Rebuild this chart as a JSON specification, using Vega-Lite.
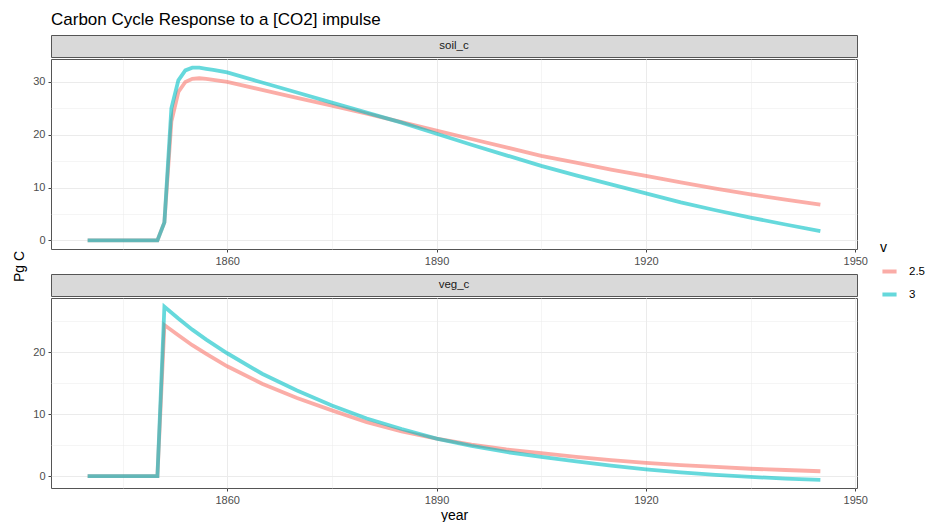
{
  "$schema": "https://vega.github.io/schema/vega-lite/v6.json",
  "padding": {"left": 13, "top": 10, "right": 0, "bottom": 0},
  "background": "white",
  "title": {"text": "Pg C", "orient": "left", "anchor": "middle", "fontSize": 14, "fontWeight": "normal", "font": "Liberation Sans", "color": "#000000", "offset": 5},
  "config": {
    "font": "Liberation Sans",
    "view": {"stroke": "#555555", "strokeWidth": 1},
    "axis": {"domain": false, "tickColor": "#444444", "tickSize": 3, "labelColor": "#4d4d4d", "labelFontSize": 11, "labelPadding": 3, "titleFontWeight": "normal", "titleColor": "#000000", "titleFontSize": 14, "gridColor": "#ebebeb"},
    "legend": {"titleFontWeight": "normal", "titleFontSize": 14, "titleColor": "#000000", "labelFontSize": 11.5, "labelColor": "#000000"}
  },
  "datasets": {
    "curves": [
      {"panel": "soil_c", "v": "2.5", "year": 1840, "value": 0},
      {"panel": "soil_c", "v": "2.5", "year": 1842, "value": 0},
      {"panel": "soil_c", "v": "2.5", "year": 1844, "value": 0},
      {"panel": "soil_c", "v": "2.5", "year": 1846, "value": 0},
      {"panel": "soil_c", "v": "2.5", "year": 1848, "value": 0},
      {"panel": "soil_c", "v": "2.5", "year": 1850, "value": 0},
      {"panel": "soil_c", "v": "2.5", "year": 1851, "value": 3.4},
      {"panel": "soil_c", "v": "2.5", "year": 1852, "value": 22.5},
      {"panel": "soil_c", "v": "2.5", "year": 1853, "value": 28.1},
      {"panel": "soil_c", "v": "2.5", "year": 1854, "value": 30.0},
      {"panel": "soil_c", "v": "2.5", "year": 1855, "value": 30.6},
      {"panel": "soil_c", "v": "2.5", "year": 1856, "value": 30.7},
      {"panel": "soil_c", "v": "2.5", "year": 1857, "value": 30.6},
      {"panel": "soil_c", "v": "2.5", "year": 1858, "value": 30.4},
      {"panel": "soil_c", "v": "2.5", "year": 1860, "value": 30.0},
      {"panel": "soil_c", "v": "2.5", "year": 1865, "value": 28.5},
      {"panel": "soil_c", "v": "2.5", "year": 1870, "value": 27.0},
      {"panel": "soil_c", "v": "2.5", "year": 1875, "value": 25.5},
      {"panel": "soil_c", "v": "2.5", "year": 1880, "value": 24.0},
      {"panel": "soil_c", "v": "2.5", "year": 1885, "value": 22.4},
      {"panel": "soil_c", "v": "2.5", "year": 1890, "value": 20.8},
      {"panel": "soil_c", "v": "2.5", "year": 1895, "value": 19.2},
      {"panel": "soil_c", "v": "2.5", "year": 1900, "value": 17.6},
      {"panel": "soil_c", "v": "2.5", "year": 1905, "value": 16.0},
      {"panel": "soil_c", "v": "2.5", "year": 1910, "value": 14.7},
      {"panel": "soil_c", "v": "2.5", "year": 1915, "value": 13.4},
      {"panel": "soil_c", "v": "2.5", "year": 1920, "value": 12.2},
      {"panel": "soil_c", "v": "2.5", "year": 1925, "value": 11.0},
      {"panel": "soil_c", "v": "2.5", "year": 1930, "value": 9.8},
      {"panel": "soil_c", "v": "2.5", "year": 1935, "value": 8.7},
      {"panel": "soil_c", "v": "2.5", "year": 1940, "value": 7.7},
      {"panel": "soil_c", "v": "2.5", "year": 1945, "value": 6.75},
      {"panel": "soil_c", "v": "3", "year": 1840, "value": 0},
      {"panel": "soil_c", "v": "3", "year": 1842, "value": 0},
      {"panel": "soil_c", "v": "3", "year": 1844, "value": 0},
      {"panel": "soil_c", "v": "3", "year": 1846, "value": 0},
      {"panel": "soil_c", "v": "3", "year": 1848, "value": 0},
      {"panel": "soil_c", "v": "3", "year": 1850, "value": 0},
      {"panel": "soil_c", "v": "3", "year": 1851, "value": 3.4},
      {"panel": "soil_c", "v": "3", "year": 1852, "value": 25.0},
      {"panel": "soil_c", "v": "3", "year": 1853, "value": 30.3},
      {"panel": "soil_c", "v": "3", "year": 1854, "value": 32.2},
      {"panel": "soil_c", "v": "3", "year": 1855, "value": 32.7},
      {"panel": "soil_c", "v": "3", "year": 1856, "value": 32.7},
      {"panel": "soil_c", "v": "3", "year": 1857, "value": 32.5},
      {"panel": "soil_c", "v": "3", "year": 1858, "value": 32.3},
      {"panel": "soil_c", "v": "3", "year": 1860, "value": 31.8},
      {"panel": "soil_c", "v": "3", "year": 1865, "value": 29.9},
      {"panel": "soil_c", "v": "3", "year": 1870, "value": 28.0},
      {"panel": "soil_c", "v": "3", "year": 1875, "value": 26.1},
      {"panel": "soil_c", "v": "3", "year": 1880, "value": 24.2},
      {"panel": "soil_c", "v": "3", "year": 1885, "value": 22.3},
      {"panel": "soil_c", "v": "3", "year": 1890, "value": 20.2},
      {"panel": "soil_c", "v": "3", "year": 1895, "value": 18.1},
      {"panel": "soil_c", "v": "3", "year": 1900, "value": 16.1},
      {"panel": "soil_c", "v": "3", "year": 1905, "value": 14.1},
      {"panel": "soil_c", "v": "3", "year": 1910, "value": 12.3},
      {"panel": "soil_c", "v": "3", "year": 1915, "value": 10.6},
      {"panel": "soil_c", "v": "3", "year": 1920, "value": 8.9},
      {"panel": "soil_c", "v": "3", "year": 1925, "value": 7.2},
      {"panel": "soil_c", "v": "3", "year": 1930, "value": 5.7},
      {"panel": "soil_c", "v": "3", "year": 1935, "value": 4.3},
      {"panel": "soil_c", "v": "3", "year": 1940, "value": 3.0},
      {"panel": "soil_c", "v": "3", "year": 1945, "value": 1.75},
      {"panel": "veg_c", "v": "2.5", "year": 1840, "value": 0},
      {"panel": "veg_c", "v": "2.5", "year": 1845, "value": 0},
      {"panel": "veg_c", "v": "2.5", "year": 1850, "value": 0},
      {"panel": "veg_c", "v": "2.5", "year": 1851, "value": 24.35},
      {"panel": "veg_c", "v": "2.5", "year": 1853, "value": 22.7},
      {"panel": "veg_c", "v": "2.5", "year": 1855, "value": 21.1},
      {"panel": "veg_c", "v": "2.5", "year": 1857, "value": 19.7},
      {"panel": "veg_c", "v": "2.5", "year": 1860, "value": 17.7},
      {"panel": "veg_c", "v": "2.5", "year": 1865, "value": 14.9},
      {"panel": "veg_c", "v": "2.5", "year": 1870, "value": 12.6},
      {"panel": "veg_c", "v": "2.5", "year": 1875, "value": 10.6},
      {"panel": "veg_c", "v": "2.5", "year": 1880, "value": 8.7},
      {"panel": "veg_c", "v": "2.5", "year": 1885, "value": 7.2},
      {"panel": "veg_c", "v": "2.5", "year": 1890, "value": 6.05},
      {"panel": "veg_c", "v": "2.5", "year": 1895, "value": 5.1},
      {"panel": "veg_c", "v": "2.5", "year": 1900, "value": 4.3},
      {"panel": "veg_c", "v": "2.5", "year": 1905, "value": 3.7},
      {"panel": "veg_c", "v": "2.5", "year": 1910, "value": 3.1},
      {"panel": "veg_c", "v": "2.5", "year": 1915, "value": 2.6},
      {"panel": "veg_c", "v": "2.5", "year": 1920, "value": 2.15},
      {"panel": "veg_c", "v": "2.5", "year": 1925, "value": 1.8},
      {"panel": "veg_c", "v": "2.5", "year": 1930, "value": 1.5},
      {"panel": "veg_c", "v": "2.5", "year": 1935, "value": 1.2},
      {"panel": "veg_c", "v": "2.5", "year": 1940, "value": 1.0},
      {"panel": "veg_c", "v": "2.5", "year": 1945, "value": 0.8},
      {"panel": "veg_c", "v": "3", "year": 1840, "value": 0},
      {"panel": "veg_c", "v": "3", "year": 1845, "value": 0},
      {"panel": "veg_c", "v": "3", "year": 1850, "value": 0},
      {"panel": "veg_c", "v": "3", "year": 1851, "value": 27.3},
      {"panel": "veg_c", "v": "3", "year": 1853, "value": 25.4},
      {"panel": "veg_c", "v": "3", "year": 1855, "value": 23.6},
      {"panel": "veg_c", "v": "3", "year": 1857, "value": 22.0},
      {"panel": "veg_c", "v": "3", "year": 1860, "value": 19.8},
      {"panel": "veg_c", "v": "3", "year": 1865, "value": 16.5},
      {"panel": "veg_c", "v": "3", "year": 1870, "value": 13.8},
      {"panel": "veg_c", "v": "3", "year": 1875, "value": 11.4},
      {"panel": "veg_c", "v": "3", "year": 1880, "value": 9.3},
      {"panel": "veg_c", "v": "3", "year": 1885, "value": 7.6},
      {"panel": "veg_c", "v": "3", "year": 1890, "value": 6.05},
      {"panel": "veg_c", "v": "3", "year": 1895, "value": 4.9},
      {"panel": "veg_c", "v": "3", "year": 1900, "value": 3.9},
      {"panel": "veg_c", "v": "3", "year": 1905, "value": 3.1},
      {"panel": "veg_c", "v": "3", "year": 1910, "value": 2.4},
      {"panel": "veg_c", "v": "3", "year": 1915, "value": 1.7},
      {"panel": "veg_c", "v": "3", "year": 1920, "value": 1.1},
      {"panel": "veg_c", "v": "3", "year": 1925, "value": 0.6},
      {"panel": "veg_c", "v": "3", "year": 1930, "value": 0.2},
      {"panel": "veg_c", "v": "3", "year": 1935, "value": -0.1},
      {"panel": "veg_c", "v": "3", "year": 1940, "value": -0.4},
      {"panel": "veg_c", "v": "3", "year": 1945, "value": -0.6}
    ]
  },
  "spacing": 0,
  "resolve": {"scale": {"y": "independent", "color": "shared"}},
  "vconcat": [
    {
      "width": 806, "height": 22,
      "title": {"text": "Carbon Cycle Response to a [CO2] impulse", "anchor": "start", "frame": "group", "fontSize": 17, "fontWeight": "normal", "color": "#000000", "offset": 6},
      "data": {"values": [{"label": "soil_c"}]},
      "view": {"fill": "#d9d9d9", "stroke": "#555555"},
      "mark": {"type": "text", "fontSize": 11.5, "color": "#1a1a1a", "baseline": "middle"},
      "encoding": {"text": {"field": "label"}}
    },
    {
      "width": 806, "height": 190,
      "data": {"name": "curves"},
      "transform": [{"filter": "datum.panel == 'soil_c'"}],
      "mark": {"type": "line", "strokeWidth": 3.8, "opacity": 0.6},
      "encoding": {
        "x": {"field": "year", "type": "quantitative", "scale": {"domain": [1834.75, 1950.25], "nice": false, "zero": false},
              "axis": {"title": null, "minExtent": 23, "maxExtent": 23, "values": [1845, 1860, 1875, 1890, 1905, 1920, 1935, 1950], "format": "d",
                       "labelExpr": "datum.value % 30 == 0 ? datum.label : ''",
                       "tickOpacity": {"condition": {"test": "datum.value % 30 == 0", "value": 1}, "value": 0},
                       "gridWidth": {"condition": {"test": "datum.value % 30 == 0", "value": 1}, "value": 0.5}}},
        "y": {"field": "value", "type": "quantitative", "scale": {"domain": [-1.64, 34.35], "nice": false, "zero": false},
              "axis": {"title": null, "minExtent": 18, "values": [0, 5, 10, 15, 20, 25, 30],
                       "labelExpr": "datum.value % 10 == 0 ? datum.label : ''",
                       "tickOpacity": {"condition": {"test": "datum.value % 10 == 0", "value": 1}, "value": 0},
                       "gridWidth": {"condition": {"test": "datum.value % 10 == 0", "value": 1}, "value": 0.5}}},
        "color": {"field": "v", "type": "nominal", "scale": {"domain": ["2.5", "3"], "range": ["#F8766D", "#00BFC4"]},
                  "legend": {"title": "v", "orient": "none", "legendX": 829, "legendY": 206, "symbolType": "stroke", "symbolStrokeWidth": 4, "symbolSize": 200, "symbolOpacity": 0.6, "rowPadding": 5, "titlePadding": 7, "labelOffset": 10}}
      }
    },
    {
      "width": 806, "height": 22,
      "data": {"values": [{"label": "veg_c"}]},
      "view": {"fill": "#d9d9d9", "stroke": "#555555"},
      "mark": {"type": "text", "fontSize": 11.5, "color": "#1a1a1a", "baseline": "middle"},
      "encoding": {"text": {"field": "label"}}
    },
    {
      "width": 806, "height": 190,
      "data": {"name": "curves"},
      "transform": [{"filter": "datum.panel == 'veg_c'"}],
      "mark": {"type": "line", "strokeWidth": 3.8, "opacity": 0.6},
      "encoding": {
        "x": {"field": "year", "type": "quantitative", "scale": {"domain": [1834.75, 1950.25], "nice": false, "zero": false},
              "axis": {"title": "year", "titlePadding": 3, "values": [1845, 1860, 1875, 1890, 1905, 1920, 1935, 1950], "format": "d",
                       "labelExpr": "datum.value % 30 == 0 ? datum.label : ''",
                       "tickOpacity": {"condition": {"test": "datum.value % 30 == 0", "value": 1}, "value": 0},
                       "gridWidth": {"condition": {"test": "datum.value % 30 == 0", "value": 1}, "value": 0.5}}},
        "y": {"field": "value", "type": "quantitative", "scale": {"domain": [-1.9, 28.7], "nice": false, "zero": false},
              "axis": {"title": null, "minExtent": 18, "values": [0, 5, 10, 15, 20, 25],
                       "labelExpr": "datum.value % 10 == 0 ? datum.label : ''",
                       "tickOpacity": {"condition": {"test": "datum.value % 10 == 0", "value": 1}, "value": 0},
                       "gridWidth": {"condition": {"test": "datum.value % 10 == 0", "value": 1}, "value": 0.5}}},
        "color": {"field": "v", "type": "nominal", "scale": {"domain": ["2.5", "3"], "range": ["#F8766D", "#00BFC4"]},
                  "legend": {"title": "v", "orient": "none", "legendX": 829, "legendY": 206, "symbolType": "stroke", "symbolStrokeWidth": 4, "symbolSize": 200, "symbolOpacity": 0.6, "rowPadding": 5, "titlePadding": 7, "labelOffset": 10}}
      }
    }
  ]
}
